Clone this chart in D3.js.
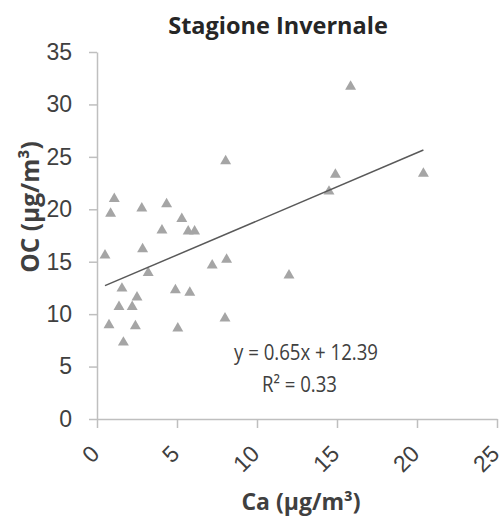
<!DOCTYPE html>
<html lang="it">
<head>
<meta charset="utf-8">
<title>Stagione Invernale</title>
<script src="https://cdn.jsdelivr.net/npm/d3@7"></script>
<style>
  html, body { margin: 0; padding: 0; background: #fff; }
  svg { display: block; font-family: "Open Sans", sans-serif; }
</style>
</head>
<body>
<svg id="chart"></svg>
<script>
  const width = 501
  const height = 517

  // Ca (µg/m3) vs OC (µg/m3), winter season
  const caValues = [0.5, 0.75, 0.85, 1.08, 1.375, 1.56, 1.65, 2.2, 2.4, 2.5,
                    2.8, 2.85, 3.2, 4.06, 4.35, 4.9, 5.05, 5.3, 5.7, 5.8,
                    6.1, 7.2, 8.0, 8.04, 8.1, 12.0, 14.5, 14.9, 15.85, 20.4]
  const ocValues = [15.6, 8.96, 19.6, 21.0, 10.7, 12.45, 7.3, 10.7, 8.87, 11.6,
                    20.1, 16.2, 13.95, 18.0, 20.5, 12.3, 8.65, 19.1, 17.9, 12.05,
                    17.9, 14.65, 9.6, 24.6, 15.2, 13.7, 21.7, 23.3, 31.7, 23.4]

  const xTicks = [0, 5, 10, 15, 20, 25]
  const yTicks = [0, 5, 10, 15, 20, 25, 30, 35]

  const slope = 0.65
  const intercept = 12.39
  const rSquared = 0.33

  const margin = {top: 52, right: 4, bottom: 98, left: 97}

  const x = d3.scaleLinear()
      .domain([0, 25])
      .range([margin.left, width - margin.right])

  const y = d3.scaleLinear()
      .domain([0, 35])
      .range([height - margin.bottom, margin.top])

  const svg = d3.select("#chart")
      .attr("width", width)
      .attr("height", height)
      .attr("viewBox", [0, 0, width, height])

  const points = caValues.map((ca, i) => ({ca, oc: ocValues[i]}))

  // axes
  const xAxis = g => g
      .attr("transform", `translate(0,${y(0)})`)
      .call(d3.axisBottom(x).tickValues(xTicks).tickSize(9).tickSizeOuter(0).tickPadding(6))
      .call(g => g.select(".domain").attr("stroke", "#bfbfbf").attr("stroke-width", 1.5))
      .call(g => g.selectAll(".tick line").attr("stroke", "#bfbfbf").attr("stroke-width", 1.5))
      .call(g => g.selectAll(".tick text")
          .attr("font-size", 23)
          .attr("fill", "#404040")
          .attr("text-anchor", "end")
          .attr("dy", "0.35em")
          .attr("transform", "translate(-13,20) rotate(-45)"))

  const yAxis = g => g
      .attr("transform", `translate(${x(0)},0)`)
      .call(d3.axisLeft(y).tickValues(yTicks).tickSize(8).tickSizeOuter(0).tickPadding(17))
      .call(g => g.select(".domain").attr("stroke", "#bfbfbf").attr("stroke-width", 1.5))
      .call(g => g.selectAll(".tick line").attr("stroke", "#bfbfbf").attr("stroke-width", 1.5))
      .call(g => g.selectAll(".tick text")
          .attr("font-size", 23)
          .attr("fill", "#404040"))

  svg.append("g").call(xAxis)
  svg.append("g").call(yAxis)

  // points
  svg.append("g")
      .attr("fill", "#a5a5a5")
      .selectAll("path")
      .data(points)
      .join("path")
      .attr("transform", d => `translate(${x(d.ca)},${y(d.oc)})`)
      .attr("d", d3.symbol(d3.symbolTriangle, 52))

  // linear trend line
  const xs = d3.extent(caValues)
  svg.append("line")
      .attr("x1", x(xs[0]))
      .attr("y1", y(slope * xs[0] + intercept))
      .attr("x2", x(xs[1]))
      .attr("y2", y(slope * xs[1] + intercept))
      .attr("stroke", "#595959")
      .attr("stroke-width", 1.5)

  svg.append("text")
      .attr("x", 234)
      .attr("y", 360)
      .attr("font-size", 21)
      .attr("fill", "#404040")
      .attr("textLength", 144)
      .attr("lengthAdjust", "spacingAndGlyphs")
      .text(`y = ${slope}x + ${intercept}`)

  svg.append("text")
      .attr("x", 262)
      .attr("y", 392)
      .attr("font-size", 21)
      .attr("fill", "#404040")
      .attr("textLength", 75)
      .attr("lengthAdjust", "spacingAndGlyphs")
      .text(`R² = ${rSquared}`)

  // title and axis labels
  svg.append("text")
      .attr("x", 278)
      .attr("y", 34)
      .attr("text-anchor", "middle")
      .attr("font-size", 23.5)
      .attr("font-weight", "bold")
      .attr("fill", "#262626")
      .text("Stagione Invernale")

  svg.append("text")
      .attr("x", 301)
      .attr("y", 510)
      .attr("text-anchor", "middle")
      .attr("font-size", 23)
      .attr("font-weight", "bold")
      .attr("fill", "#404040")
      .text("Ca (µg/m³)")

  svg.append("text")
      .attr("transform", "translate(39,207) rotate(-90)")
      .attr("text-anchor", "middle")
      .attr("font-size", 24.5)
      .attr("font-weight", "bold")
      .attr("fill", "#404040")
      .text("OC (µg/m³)")
</script>
</body>
</html>
